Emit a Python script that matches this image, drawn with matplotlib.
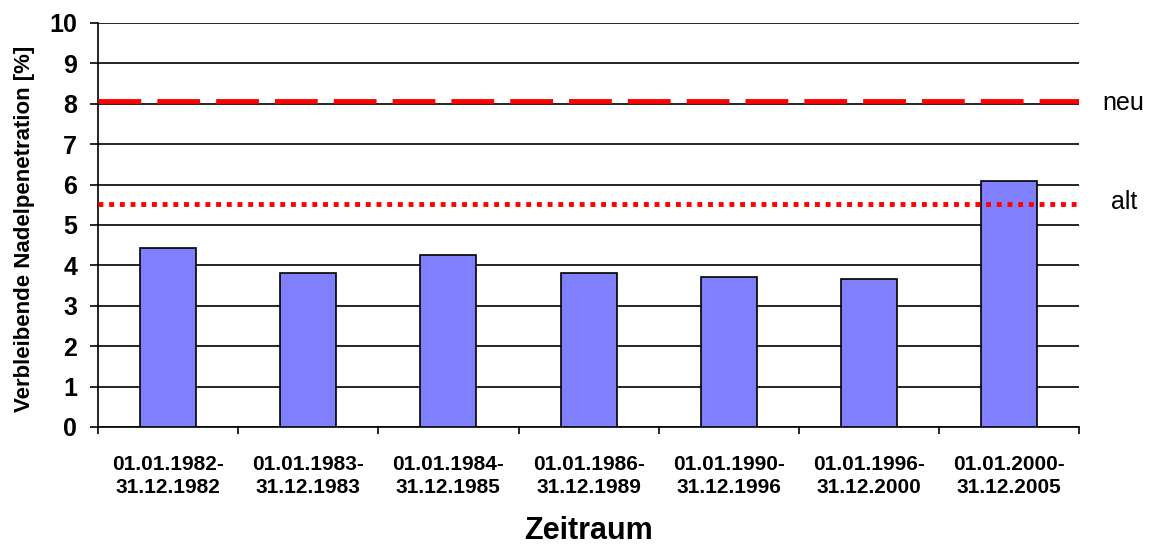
import matplotlib.pyplot as plt
import numpy as np

plt.rcParams['font.family'] = ['Liberation Sans', 'DejaVu Sans']

zeitraum = ["01.01.1982-\n31.12.1982", "01.01.1983-\n31.12.1983", "01.01.1984-\n31.12.1985",
            "01.01.1986-\n31.12.1989", "01.01.1990-\n31.12.1996", "01.01.1996-\n31.12.2000",
            "01.01.2000-\n31.12.2005"]
penetration = [4.42, 3.81, 4.25, 3.81, 3.71, 3.66, 6.09]
grenze_neu = 8.07
grenze_alt = 5.52

fig = plt.figure(figsize=(11.53, 5.47), dpi=100)
ax = fig.add_axes([0.085, 0.2194, 0.851, 0.7386])

x = np.arange(len(zeitraum))
ax.bar(x, penetration, width=0.4, color='#8080FF', edgecolor='black', linewidth=1.2, zorder=3)

ax.set_xlim(-0.5, len(zeitraum) - 0.5)
ax.set_ylim(0, 10)
ax.set_yticks(range(0, 11))
ax.yaxis.grid(True, color='black', linewidth=1.2, zorder=0)
ax.set_axisbelow(True)

ax.axhline(grenze_neu, color='red', linewidth=3.5, dashes=(8.8, 3.3), zorder=4)
ax.axhline(grenze_alt, color='red', linewidth=3.5, dashes=(1, 1.2), zorder=4)
ax.text(1.024, grenze_neu - 0.05, "neu", transform=ax.get_yaxis_transform(), fontsize=18, va='center', ha='left')
ax.text(1.032, grenze_alt + 0.05, "alt", transform=ax.get_yaxis_transform(), fontsize=18, va='center', ha='left')

for s in ['top', 'right']:
    ax.spines[s].set_visible(False)
ax.spines['left'].set_linewidth(1.2)
ax.spines['bottom'].set_linewidth(1.2)

# ticks at category borders, labels centred under bars
ax.set_xticks(np.arange(-0.5, len(zeitraum), 1.0))
ax.set_xticklabels([])
ax.set_xticks(x, minor=True)
ax.set_xticklabels(zeitraum, minor=True, fontsize=15, fontweight='bold', linespacing=1.25)
ax.tick_params(axis='x', which='minor', length=0, pad=20)
ax.tick_params(axis='x', which='major', length=5, width=1.2, direction='out')
ax.tick_params(axis='y', length=6, width=1.2, direction='out', labelsize=18, pad=9)
for lbl in ax.get_yticklabels():
    lbl.set_fontweight('bold')

ax.set_ylabel("Verbleibende Nadelpenetration [%]", fontsize=16, fontweight='bold', labelpad=6)
ax.yaxis.set_label_coords(-0.064, 0.49)
ax.set_xlabel("Zeitraum", fontsize=22, fontweight='bold', labelpad=14)

fig.savefig("out.png", dpi=100)
